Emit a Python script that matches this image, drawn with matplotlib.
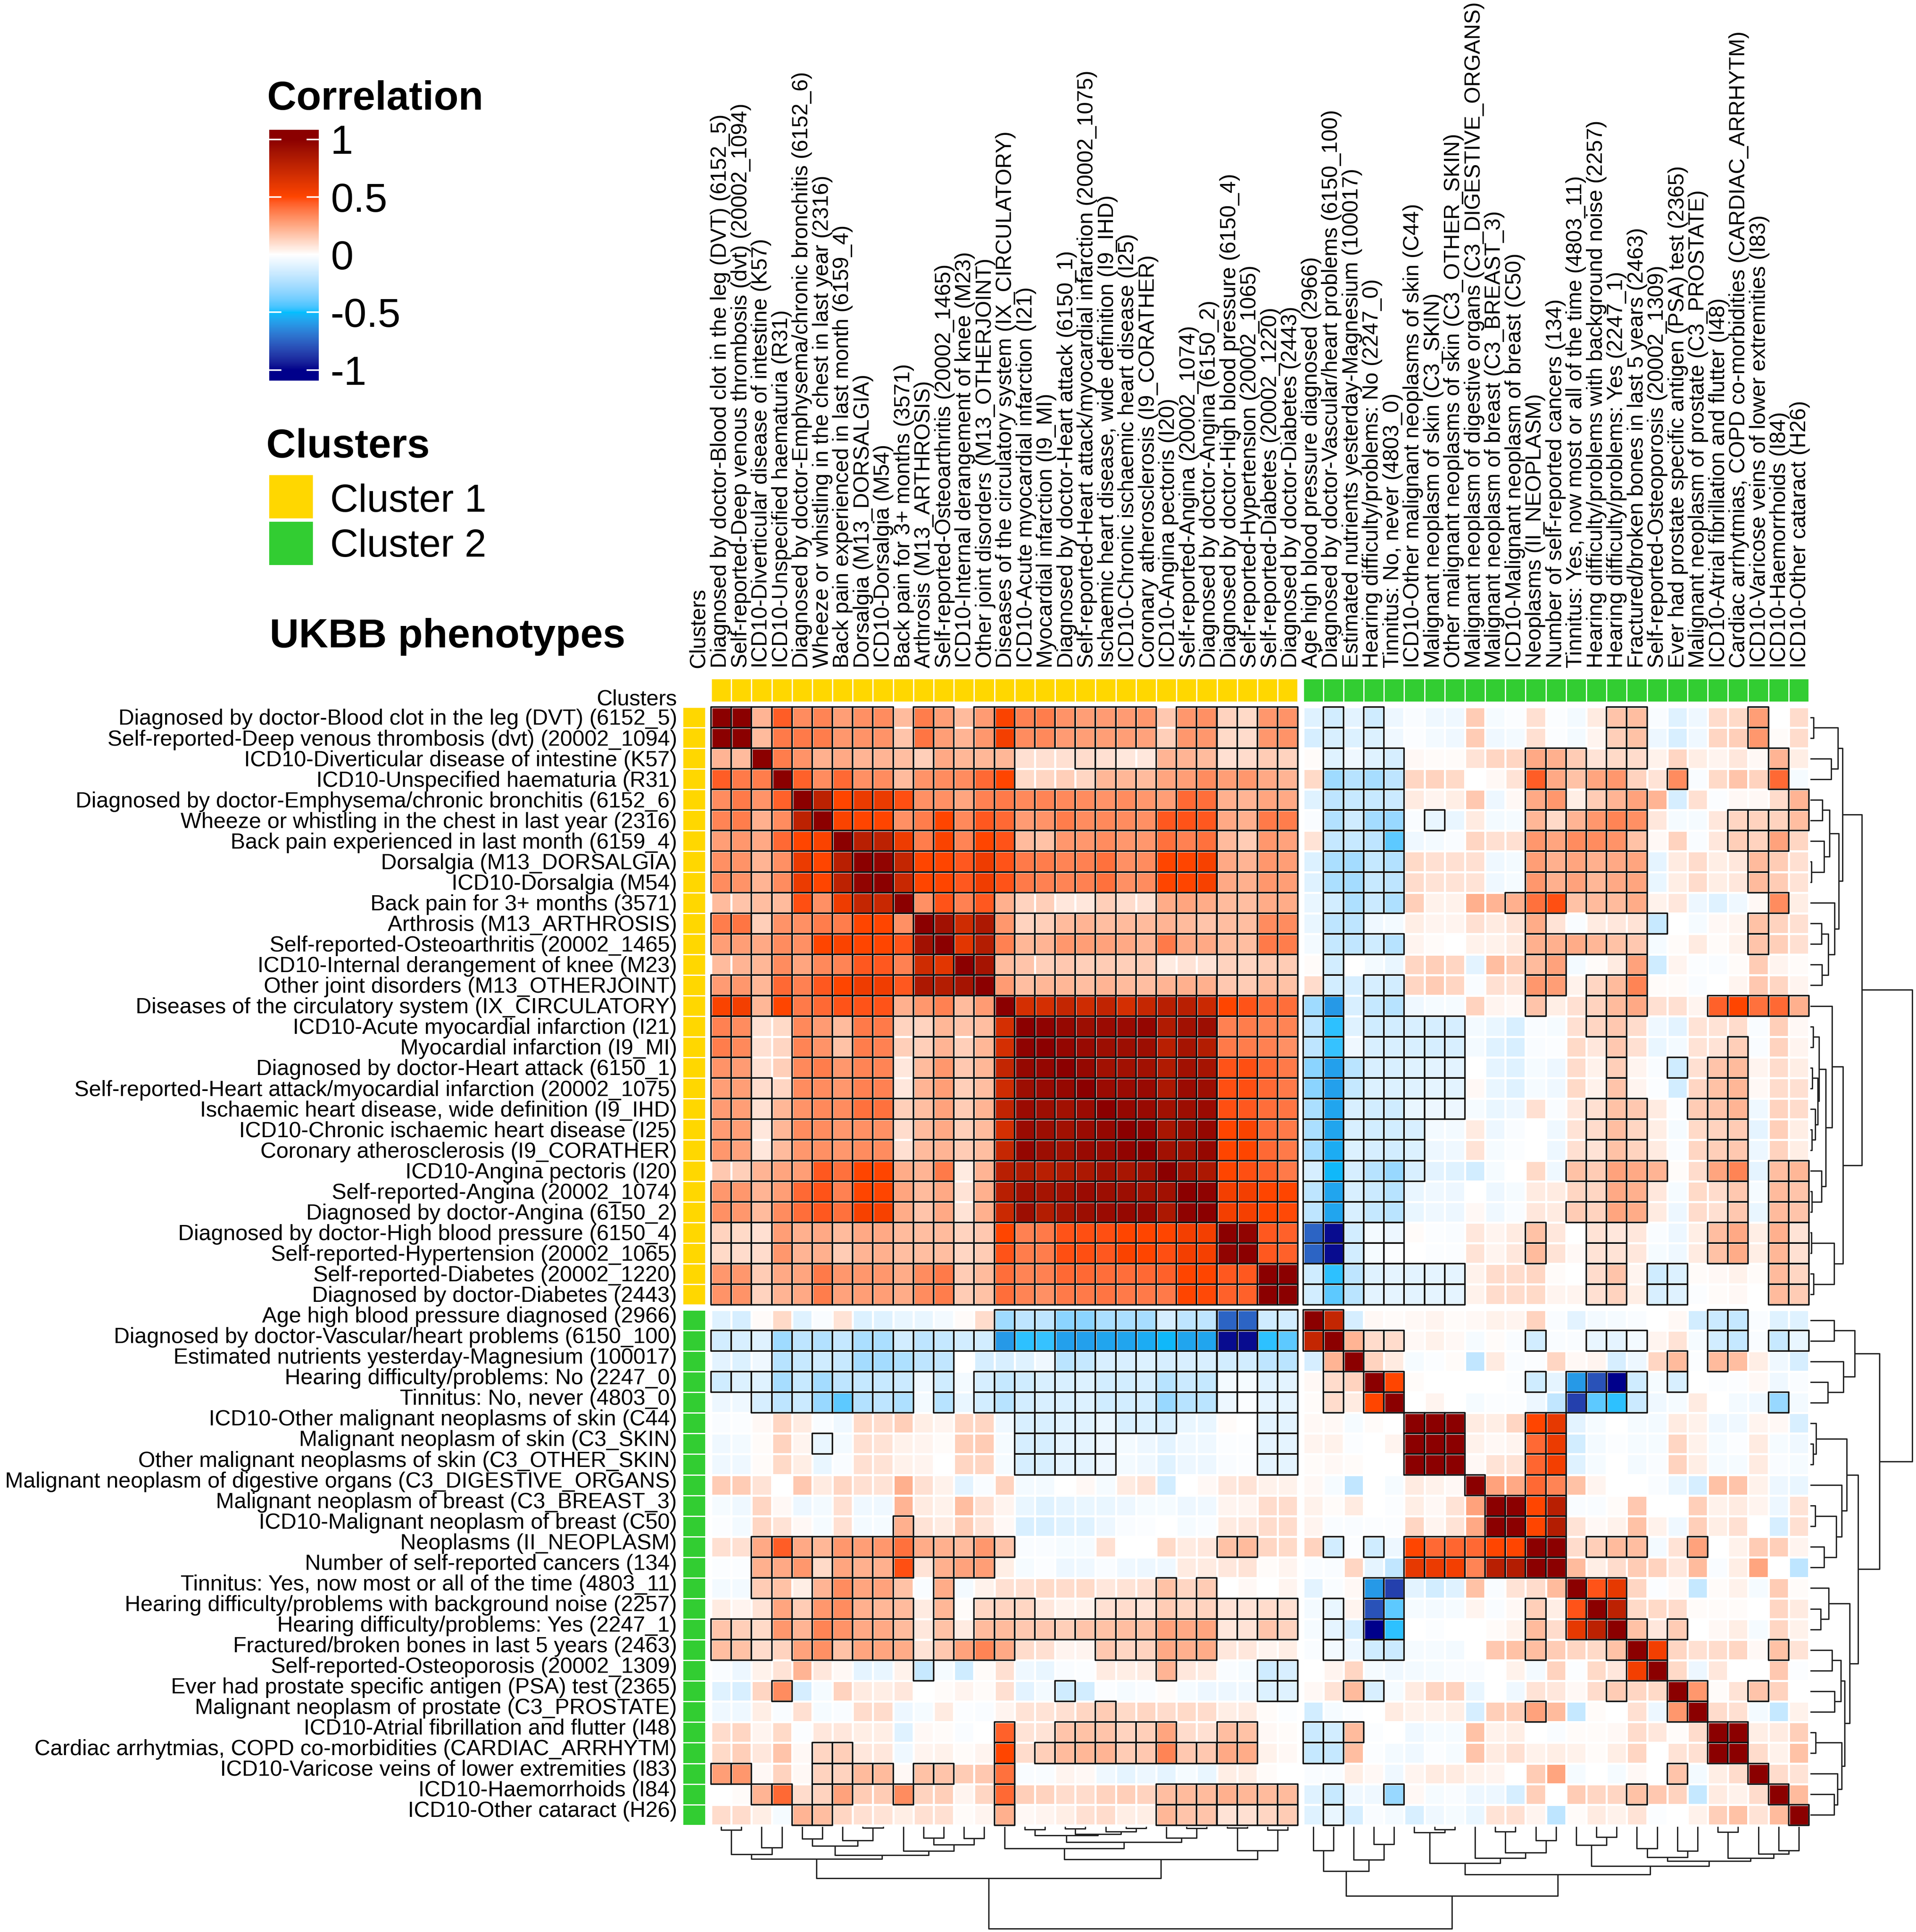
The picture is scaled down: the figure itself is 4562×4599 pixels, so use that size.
import numpy as np
import matplotlib
matplotlib.use('Agg')
import matplotlib.pyplot as plt
from matplotlib.colors import ListedColormap, Normalize, to_rgb
from matplotlib.patches import Rectangle
from matplotlib.collections import PatchCollection, LineCollection

plt.rcParams['font.family'] = ['Liberation Sans', 'DejaVu Sans']

labels = [
    'Diagnosed by doctor-Blood clot in the leg (DVT) (6152_5)',
    'Self-reported-Deep venous thrombosis (dvt) (20002_1094)',
    'ICD10-Diverticular disease of intestine (K57)',
    'ICD10-Unspecified haematuria (R31)',
    'Diagnosed by doctor-Emphysema/chronic bronchitis (6152_6)',
    'Wheeze or whistling in the chest in last year (2316)',
    'Back pain experienced in last month (6159_4)',
    'Dorsalgia (M13_DORSALGIA)',
    'ICD10-Dorsalgia (M54)',
    'Back pain for 3+ months (3571)',
    'Arthrosis (M13_ARTHROSIS)',
    'Self-reported-Osteoarthritis (20002_1465)',
    'ICD10-Internal derangement of knee (M23)',
    'Other joint disorders (M13_OTHERJOINT)',
    'Diseases of the circulatory system (IX_CIRCULATORY)',
    'ICD10-Acute myocardial infarction (I21)',
    'Myocardial infarction (I9_MI)',
    'Diagnosed by doctor-Heart attack (6150_1)',
    'Self-reported-Heart attack/myocardial infarction (20002_1075)',
    'Ischaemic heart disease, wide definition (I9_IHD)',
    'ICD10-Chronic ischaemic heart disease (I25)',
    'Coronary atherosclerosis (I9_CORATHER)',
    'ICD10-Angina pectoris (I20)',
    'Self-reported-Angina (20002_1074)',
    'Diagnosed by doctor-Angina (6150_2)',
    'Diagnosed by doctor-High blood pressure (6150_4)',
    'Self-reported-Hypertension (20002_1065)',
    'Self-reported-Diabetes (20002_1220)',
    'Diagnosed by doctor-Diabetes (2443)',
    'Age high blood pressure diagnosed (2966)',
    'Diagnosed by doctor-Vascular/heart problems (6150_100)',
    'Estimated nutrients yesterday-Magnesium (100017)',
    'Hearing difficulty/problems: No (2247_0)',
    'Tinnitus: No, never (4803_0)',
    'ICD10-Other malignant neoplasms of skin (C44)',
    'Malignant neoplasm of skin (C3_SKIN)',
    'Other malignant neoplasms of skin (C3_OTHER_SKIN)',
    'Malignant neoplasm of digestive organs (C3_DIGESTIVE_ORGANS)',
    'Malignant neoplasm of breast (C3_BREAST_3)',
    'ICD10-Malignant neoplasm of breast (C50)',
    'Neoplasms (II_NEOPLASM)',
    'Number of self-reported cancers (134)',
    'Tinnitus: Yes, now most or all of the time (4803_11)',
    'Hearing difficulty/problems with background noise (2257)',
    'Hearing difficulty/problems: Yes (2247_1)',
    'Fractured/broken bones in last 5 years (2463)',
    'Self-reported-Osteoporosis (20002_1309)',
    'Ever had prostate specific antigen (PSA) test (2365)',
    'Malignant neoplasm of prostate (C3_PROSTATE)',
    'ICD10-Atrial fibrillation and flutter (I48)',
    'Cardiac arrhytmias, COPD co-morbidities (CARDIAC_ARRHYTM)',
    'ICD10-Varicose veins of lower extremities (I83)',
    'ICD10-Haemorrhoids (I84)',
    'ICD10-Other cataract (H26)',
]

# correlations x100, upper triangle of cluster 1 (row i, columns i..28)
c1_upper = [
    [100,100,22,45,33,35,28,32,33,20,37,28,20,29,52,36,37,31,28,29,29,30,16,30,32,13,11,30,31],
    [100,20,38,38,37,30,31,31,17,39,28,22,30,55,33,34,29,28,28,28,27,14,30,30,11,10,30,31],
    [100,37,31,23,25,22,22,19,14,25,21,21,21,9,9,9,10,9,7,7,22,22,20,9,10,15,13],
    [100,44,33,42,32,33,20,31,33,33,42,50,11,12,14,12,21,21,20,26,28,33,28,30,25,22],
    [100,78,50,58,58,48,32,32,26,36,38,34,35,34,33,31,33,30,28,42,41,23,22,26,25],
    [100,52,50,50,32,37,50,34,46,42,29,31,37,33,34,33,32,46,47,46,25,23,38,37],
    [100,80,78,57,37,52,35,50,47,20,18,30,30,33,30,30,40,36,40,20,15,30,27],
    [100,97,75,50,50,46,57,47,38,37,35,36,40,32,33,50,50,53,25,22,30,28],
    [100,73,50,50,46,56,47,38,36,35,36,40,32,33,50,50,53,25,23,30,28],
    [100,32,47,36,46,23,13,14,7,7,14,10,9,24,26,24,20,19,24,24],
    [100,90,70,85,30,13,14,20,22,19,20,20,22,20,17,19,19,33,33],
    [100,62,82,36,21,22,30,28,27,25,22,38,25,25,20,19,38,37],
    [100,88,20,17,14,16,14,15,14,15,6,8,8,13,12,15,15],
    [100,29,19,21,21,19,22,20,19,22,23,23,16,15,20,18],
    [100,68,68,75,70,76,68,74,80,80,72,50,47,41,41],
    [100,98,95,92,93,93,96,83,90,92,36,37,35,35],
    [100,96,94,92,92,92,80,88,82,38,37,36,32],
    [100,95,90,90,90,83,90,88,47,48,42,38],
    [100,93,93,94,85,93,92,48,48,42,38],
    [100,95,94,90,92,93,48,46,41,39],
    [100,97,87,92,95,50,52,41,38],
    [100,90,90,95,50,50,42,38],
    [100,90,85,50,48,44,38],
    [100,98,55,55,50,50],
    [100,55,54,50,49],
    [100,97,46,44],
    [100,46,44],
    [100,100],
    [100],
]

# cluster 1 rows against cluster 2 columns (columns 29..53)
cross = [
    [-10,-14,-9,-15,-6,-2,-5,-5,15,-3,-1,9,-1,-4,6,17,19,-2,-10,-5,10,11,28,0,10],
    [-13,-12,-11,-11,-5,-1,-4,-5,15,-5,-4,9,-1,-4,3,14,18,-6,-12,-5,12,14,30,1,10],
    [1,-10,-5,-10,-13,2,1,1,8,12,12,25,23,15,8,11,10,4,12,5,3,7,2,22,5],
    [11,-28,-22,-26,-20,12,13,11,0,2,8,45,25,18,26,30,13,8,33,-2,11,17,13,42,-3],
    [-10,-20,-17,-17,-16,6,3,5,16,-6,2,25,30,5,15,22,27,22,-13,9,-1,2,2,10,22],
    [-2,-23,-15,-27,-30,-2,-7,-7,6,-4,-3,21,11,22,30,35,32,7,-3,-3,7,12,13,13,19],
    [8,-18,-17,-20,-42,-5,-4,-2,12,9,9,30,26,33,33,31,18,2,13,-2,7,14,13,27,12],
    [-11,-25,-27,-18,-23,11,9,9,9,-5,-4,28,23,26,23,25,26,-8,6,10,5,7,20,15,9],
    [-10,-25,-27,-17,-20,10,8,8,8,-5,-3,30,23,27,21,25,26,-7,5,10,5,7,20,15,8],
    [-7,-14,-24,-16,-24,14,4,4,23,22,23,40,48,18,20,20,24,4,7,-6,-10,-5,2,33,5],
    [-7,-20,-20,-5,-4,5,3,3,9,6,8,24,8,-2,6,7,8,-17,0,-3,2,3,18,13,9],
    [-4,-18,-19,-15,-22,3,1,0,4,4,6,23,23,24,21,18,16,-3,1,6,1,4,17,14,9],
    [1,-14,0,-4,-7,12,14,12,-9,19,15,20,27,-4,1,6,27,-15,3,-1,-2,1,15,3,1],
    [10,-14,-13,-13,-14,12,15,12,-2,9,8,30,28,4,12,20,35,1,1,-2,0,3,16,12,3],
    [-28,-60,-12,-18,-22,-5,-3,-3,13,3,2,17,5,9,13,20,25,9,9,3,44,50,40,42,23],
    [-20,-48,-10,-15,-14,-12,-13,-13,-4,-7,-12,-2,-3,9,12,16,10,-5,-9,8,8,10,-2,14,2],
    [-20,-47,-5,-12,-12,-12,-13,-12,-4,-10,-12,-2,-1,11,7,16,9,-7,-4,8,8,14,-2,13,3],
    [-33,-58,-21,-12,-12,-10,-9,-9,0,-8,-10,-3,-6,10,4,14,3,-2,-15,9,17,20,3,10,5],
    [-33,-58,-18,-11,-11,-10,-8,-9,2,-7,-10,-3,-5,11,4,17,3,-1,-14,12,18,21,2,10,9],
    [-25,-57,-12,-14,-15,-7,-6,-6,-3,-7,-6,9,-2,7,9,18,16,6,-1,15,17,22,-5,13,10],
    [-25,-57,-12,-14,-14,-12,-4,-4,6,-6,-2,0,-5,8,10,19,12,5,-3,11,13,15,-8,14,5],
    [-26,-55,-11,-13,-14,-11,-6,-5,8,-3,-1,0,-6,9,8,18,13,6,-2,12,14,16,-6,13,5],
    [-13,-52,-13,-22,-30,-12,-9,-10,-14,-3,0,11,-5,18,15,27,25,22,1,10,26,35,-8,19,21],
    [-20,-57,-12,-16,-22,-7,-5,-6,0,-6,-3,6,6,12,12,25,23,7,-3,11,10,16,-3,20,17],
    [-20,-57,-12,-18,-21,-7,-5,-6,2,-5,-2,7,6,15,13,26,24,6,-6,10,9,16,-7,20,17],
    [-75,-98,-14,-4,-6,1,-1,-2,7,3,6,18,7,0,8,7,7,-2,-6,5,19,25,5,23,8],
    [-75,-98,-14,-3,-1,0,-1,-1,8,3,7,20,8,2,8,8,7,-3,-5,6,18,24,5,21,9],
    [-15,-48,-20,-10,-8,-9,-8,-8,4,10,10,12,1,0,10,17,3,-15,-11,1,2,4,1,20,12],
    [-14,-42,-21,-9,-8,-9,-8,-8,4,10,10,11,3,3,9,13,5,-12,-10,-1,1,2,0,20,15],
]

# upper triangle of cluster 2 (row 29+i, columns 29+i..53)
c2_upper = [
    [100,75,-13,2,1,2,3,1,2,4,3,13,-2,-9,-4,-3,-2,0,2,-14,-16,-18,-2,-10,-10],
    [100,22,10,10,2,4,2,-3,1,-2,-14,-2,-2,-7,-8,-4,3,8,-3,-14,-18,-2,-17,-7],
    [100,13,6,-3,-1,1,-19,6,-2,-1,12,2,3,-13,-6,12,20,-1,20,19,5,-5,-13],
    [100,50,1,0,0,0,0,-1,-15,-8,-60,-80,-100,-15,-3,-12,0,-1,-1,2,-5,-2],
    [100,0,3,0,-3,-1,-1,-6,-19,-85,-42,-48,-16,-5,-3,6,0,-4,-5,-30,-4],
    [100,100,100,6,5,12,50,60,-9,-3,0,-3,-4,6,4,-5,-5,3,2,-12],
    [100,100,4,2,3,42,58,-14,-4,-1,-3,-3,12,4,-3,-1,6,-3,-5],
    [100,2,8,8,43,55,-10,-3,0,-4,-2,13,5,-3,-3,6,-2,-3],
    [100,27,25,42,35,18,3,0,0,-2,-7,-13,18,17,4,-6,-7],
    [100,100,50,80,-2,-2,1,16,0,0,14,4,6,3,-6,8],
    [100,50,82,8,2,4,18,4,-5,14,5,9,0,-13,9],
    [100,100,10,14,20,19,-4,8,27,0,4,15,14,3],
    [100,20,5,10,15,13,7,20,-2,5,26,0,-20],
    [100,47,60,12,-1,2,-18,1,4,-3,15,1],
    [100,78,11,11,10,1,1,1,0,12,6],
    [100,18,7,15,0,2,5,-3,12,4],
    [100,55,12,9,10,12,2,18,8],
    [100,11,-6,7,0,0,16,-1],
    [100,30,1,8,17,13,0],
    [100,10,9,-4,-18,4],
    [100,100,5,6,14],
    [100,10,4,18],
    [100,10,8],
    [100,20],
    [100],
]

# cells inside cluster 1 that have no black outline
c1_plain = [(0, 9), (0, 12), (0, 22), (1, 9), (1, 12), (1, 22),
            (2, 15), (2, 16), (2, 17), (2, 20), (2, 21),
            (3, 15), (3, 16), (3, 17), (3, 18),
            (9, 15), (9, 16), (9, 17), (9, 18), (9, 20), (9, 21),
            (12, 15), (12, 16), (12, 22), (12, 23), (12, 24)]

# outlined columns per cluster 1 row, cluster 2 columns
cross_sig = [
    [30,32,44,45,51],
    [30,32,44,45,51],
    [30,32,33,40,41,42,44,45,52],
    [30,31,32,33,40,41,43,44,47,52],
    [30,31,32,33,40,41,43,44,45,53],
    [30,31,32,33,35,40,41,42,43,44,45,50,51,52,53],
    [30,31,32,33,40,41,42,43,44,45,50,51,52],
    [30,31,32,33,40,41,42,43,44,45,51],
    [30,31,32,33,40,41,42,43,44,45,51],
    [30,31,32,33,39,40,41,43,44,45,52],
    [30,31,40,46,51],
    [30,31,32,33,40,41,42,43,44,45,51],
    [30,40,41,45],
    [30,32,33,40,41,43,44,45],
    [29,30,32,33,40,43,44,45,49,50,51,52,53],
    [29,30,32,33,34,35,36,43,44],
    [29,30,32,33,34,35,36,44,50],
    [29,30,31,32,33,34,35,36,44,47,49,50],
    [29,30,31,32,33,34,35,36,44,49,50],
    [29,30,31,32,33,34,35,36,43,44,45,48,49,50],
    [29,30,31,32,33,34,43,44,45,49,50],
    [29,30,31,32,33,34,43,44,45,49,50],
    [29,30,31,32,33,34,42,43,44,45,46,49,50,52,53],
    [29,30,31,32,33,43,44,45,50,52,53],
    [29,30,31,32,33,42,43,44,45,50,52,53],
    [29,30,31,32,33,40,43,44,49,50,52,53],
    [29,30,31,32,33,40,43,44,49,50,52,53],
    [29,30,31,32,33,34,35,36,43,44,46,47,52,53],
    [29,30,31,32,33,34,35,36,43,44,46,47,52,53],
]

# outlined columns per cluster 2 row, diagonal included
c2_sig = [
    [29,30,49,50],
    [30,31,32,33,40,43,44,45,49,50,52,53],
    [31,47,49],
    [32,33,40,42,43,44,45,47],
    [33,42,43,44,45,52],
    [34,35,36,40,41],
    [35,36,40,41],
    [36,40,41],
    [37,40,41],
    [38,39,40,41],
    [39,40,41],
    [40,41,43,44,45,48],
    [41],
    [42,43,44],
    [43,44],
    [44,45,47],
    [45,46,52],
    [46],
    [47,48,51],
    [48],
    [49,50],
    [50],
    [51],
    [52],
    [53],
]

# same tree on both sides: (height, left, right), leaves are row numbers
tree_c1 = (370,
           (230, (198, (25, 0, 1), (150, 2, 3)),
            (205, (138, (88, 4, 5), (98, 6, (10, 7, 8))),
             (175, 9, (128, (82, 10, 11), (85, 12, 13))))),
           (235, (155, 14, (110, (63, (20, 15, 16), (55, (15, 17, 18), (35, 19, (12, 20, 21)))),
                            (80, 22, (12, 23, 24)))),
            (170, (10, 25, 26), (25, 27, 28))))
tree_c2 = (495,
           (317, (170, 29, 30), (238, 31, (125, 32, 33))),
           (342,
            (260, (42, 34, (20, 35, 36)), (225, 37, (185, (35, 38, 39), (100, 40, 41)))),
            (282, (133, 42, (75, 43, 44)),
             (245, (218, (155, 45, 46), (175, 47, 48)),
              (225, (40, 49, 50), (195, 51, (170, 52, 53)))))))
tree = (728, tree_c1, tree_c2)

legend_ticks = [1, 0.5, 0, -0.5, -1]
legend_tick_labels = ['1', '0.5', '0', '-0.5', '-1']
cluster_names = ['Cluster 1', 'Cluster 2']
cluster_colors = ['#FFD700', '#32CD32']
ramp_colors = ['darkblue', 'deepskyblue', 'white', 'orangered', 'darkred']

n = 54
M = np.zeros((n, n))
sig = np.zeros((n, n), dtype=bool)
for i, r in enumerate(c1_upper):
    M[i, i:29] = r
    sig[i, i:29] = True
for i, r in enumerate(cross):
    M[i, 29:] = r
    sig[i, cross_sig[i]] = True
for i, r in enumerate(c2_upper):
    M[29 + i, 29 + i:] = r
    sig[29 + i, c2_sig[i]] = True
for i, j in c1_plain:
    sig[i, j] = False
M = M + M.T - np.diag(np.diag(M))
M = M / 100
sig = sig | sig.T


# the ramp blends in Lab, an sRGB blend looks too cyan
def rgb2lab(rgb):
    c = np.asarray(rgb, dtype=float)
    lin = np.where(c > 0.04045, ((c + 0.055) / 1.055) ** 2.4, c / 12.92)
    mat = np.array([[0.4124, 0.3576, 0.1805], [0.2126, 0.7152, 0.0722], [0.0193, 0.1192, 0.9505]])
    xyz = lin @ mat.T / np.array([0.9505, 1.0, 1.089])
    f = np.where(xyz > 0.008856, np.cbrt(xyz), 7.787 * xyz + 16 / 116)
    return np.stack([116 * f[..., 1] - 16, 500 * (f[..., 0] - f[..., 1]), 200 * (f[..., 1] - f[..., 2])], -1)


def lab2rgb(lab):
    fy = (lab[..., 0] + 16) / 116
    f = np.stack([fy + lab[..., 1] / 500, fy, fy - lab[..., 2] / 200], -1)
    xyz = np.where(f > 0.2069, f ** 3, (f - 16 / 116) / 7.787) * np.array([0.9505, 1.0, 1.089])
    mat = np.linalg.inv(np.array([[0.4124, 0.3576, 0.1805], [0.2126, 0.7152, 0.0722], [0.0193, 0.1192, 0.9505]]))
    lin = np.clip(xyz @ mat.T, 0, 1)
    return np.clip(np.where(lin > 0.0031308, 1.055 * lin ** (1 / 2.4) - 0.055, 12.92 * lin), 0, 1)


stops = rgb2lab([to_rgb(c) for c in ramp_colors])
pos = np.linspace(0, 1, 513)
lab_ramp = np.stack([np.interp(pos, np.linspace(0, 1, 5), stops[:, k]) for k in range(3)], -1)
cmap = ListedColormap(lab2rgb(lab_ramp))
norm = Normalize(-1, 1)

W, H = 4562, 4599
fig = plt.figure(figsize=(W / 100, H / 100), dpi=100)
ax = fig.add_axes([0, 0, 1, 1])
ax.set_xlim(0, W)
ax.set_ylim(H, 0)
ax.axis('off')

# layout in reference pixels
cw, ch = 48.18, 49.07
x_blocks = [1693, 3102.5]
y_blocks = [1683, 3118]
sizes = [29, 25]


def edges(start, size, step):
    return start + step * np.arange(size + 1)


x_edges = [edges(x_blocks[k], sizes[k], cw) for k in range(2)]
y_edges = [edges(y_blocks[k], sizes[k], ch) for k in range(2)]
x_mid = np.concatenate([(e[:-1] + e[1:]) / 2 for e in x_edges])
y_mid = np.concatenate([(e[:-1] + e[1:]) / 2 for e in y_edges])
x_left = np.concatenate([e[:-1] for e in x_edges])
y_top = np.concatenate([e[:-1] for e in y_edges])

offs = [0, 29]
for a in range(2):
    for b in range(2):
        block = M[offs[a]:offs[a] + sizes[a], offs[b]:offs[b] + sizes[b]]
        ax.pcolormesh(x_edges[b], y_edges[a], block, cmap=cmap, norm=norm,
                      edgecolors='white', linewidth=2.2)

ri, rj = np.nonzero(sig)
boxes = [Rectangle((x_left[j], y_top[i]), cw, ch) for i, j in zip(ri, rj)]
ax.add_collection(PatchCollection(boxes, facecolor='none', edgecolor='#111111', linewidth=2.6))

# cluster strips
for k in range(2):
    ax.pcolormesh(x_edges[k], [1615, 1671], np.full((1, sizes[k]), k), shading='flat',
                  cmap=ListedColormap(cluster_colors), vmin=0, vmax=1,
                  edgecolors='white', linewidth=1.8)
    ax.pcolormesh([1625, 1680], y_edges[k], np.full((sizes[k], 1), k), shading='flat',
                  cmap=ListedColormap(cluster_colors), vmin=0, vmax=1,
                  edgecolors='white', linewidth=1.0)

# labels run evenly across the two blocks, they ignore the gap
row_fs = 37.6
col_fs = 37.3
row_lab_y = np.linspace(1712, 4312, n)
col_lab_x = np.linspace(1716, 4286, n)
for i, s in enumerate(labels):
    ax.text(1612, row_lab_y[i], s, ha='right', va='center', fontsize=row_fs)
    ax.text(col_lab_x[i], 1590, s, ha='center', va='bottom', rotation=90, fontsize=col_fs)
ax.text(1612, 1665, 'Clusters', ha='right', va='center', fontsize=row_fs)
ax.text(1663, 1590, 'Clusters', ha='center', va='bottom', rotation=90, fontsize=col_fs)


# dendrograms
def walk(node, segs, to_xy, mids):
    if not isinstance(node, tuple):
        return mids[node], 0
    h, left, right = node
    p1, h1 = walk(left, segs, to_xy, mids)
    p2, h2 = walk(right, segs, to_xy, mids)
    segs.append([to_xy(p1, h1), to_xy(p1, h), to_xy(p2, h), to_xy(p2, h2)])
    return (p1 + p2) / 2, h


segs_right = []
walk(tree, segs_right, lambda p, h: (4310 + h / 3, p), y_mid)
segs_bottom = []
walk(tree, segs_bottom, lambda p, h: (p, 4348 + h / 3), x_mid)
ax.add_collection(LineCollection(segs_right, colors='#222222', linewidths=2.3))
ax.add_collection(LineCollection(segs_bottom, colors='#222222', linewidths=2.3))

# legend
ax.text(636, 261, 'Correlation', fontsize=69.5, fontweight='bold', va='baseline')
bar_y = np.linspace(309, 906, 300)
tick_y = {t: 606 - 274.5 * t for t in legend_ticks}
bar_vals = ((606 - (bar_y[:-1] + bar_y[1:]) / 2) / 274.5).reshape(-1, 1)
ax.pcolormesh([641, 759], bar_y, bar_vals, cmap=cmap, norm=norm, shading='flat',
              edgecolors='none', antialiased=False)
for t, lab in zip(legend_ticks, legend_tick_labels):
    y = tick_y[t]
    ax.plot([641, 670], [y, y], color='white', lw=2.6, solid_capstyle='butt')
    ax.plot([730, 759], [y, y], color='white', lw=2.6, solid_capstyle='butt')
    ax.text(787, y, lab, fontsize=70, va='center_baseline')

ax.text(634, 1089, 'Clusters', fontsize=70, fontweight='bold', va='baseline')
sw_tops = [1131, 1242]
text_base = [1218, 1325]
for name, col, top, base in zip(cluster_names, cluster_colors, sw_tops, text_base):
    ax.add_patch(Rectangle((641, top), 104, 103, facecolor=col, edgecolor='none'))
    ax.text(786, base, name, fontsize=67, va='baseline')

ax.text(642, 1541, 'UKBB phenotypes', fontsize=69.5, fontweight='bold', va='baseline')

ax.set_xlim(0, W)
ax.set_ylim(H, 0)
fig.savefig('out.png', dpi=100, facecolor='white')
